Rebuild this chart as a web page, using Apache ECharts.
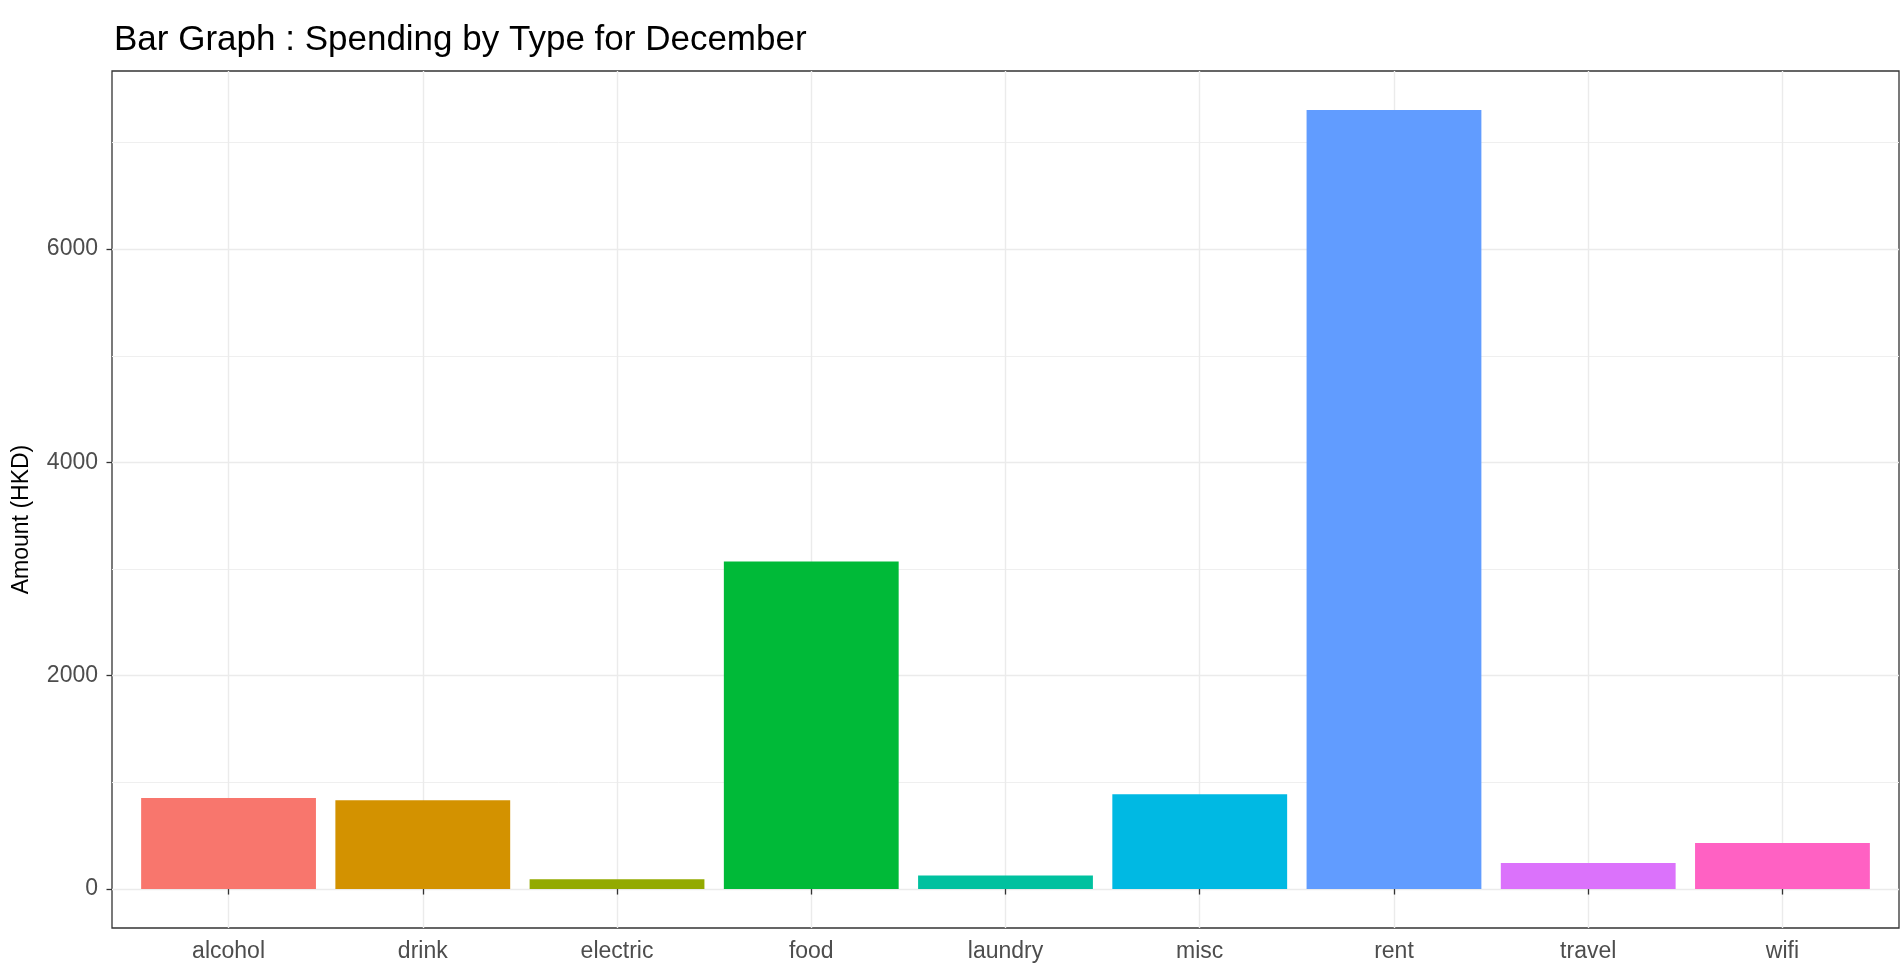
<!DOCTYPE html>
<html>
<head>
<meta charset="utf-8">
<title>Spending by Type for December</title>
<script src="https://cdn.jsdelivr.net/npm/echarts@6/dist/echarts.min.js"></script>
<style>
  html, body { margin: 0; padding: 0; background: #fff; }
  #chart { width: 1903px; height: 970px; }
</style>
</head>
<body>
<div id="chart"></div>
<script>
// values
const categories = ['alcohol', 'drink', 'electric', 'food', 'laundry', 'misc', 'rent', 'travel', 'wifi'];
const amounts = [853, 832, 91, 3070, 128, 888, 7305, 244, 431];
const barColors = ['#F8766D', '#D39200', '#93AA00', '#00BA38', '#00C19F', '#00B9E3', '#619CFF', '#DB72FB', '#FF61C3'];
const yTicks = [0, 2000, 4000, 6000];
const yMinorTicks = [1000, 3000, 5000, 7000];

const font = 'Liberation Sans, Arial, sans-serif';

// ggplot style 5% expansion on the value axis
const maxAmount = Math.max(...amounts);
const yMin = -0.05 * maxAmount;
const yMax = 1.05 * maxAmount;

// panel box in pixels
const panel = { left: 112, right: 1899, top: 71, bottom: 928 };
const band = (panel.right - panel.left) / (categories.length - 1 + 1.2);

const chart = echarts.init(document.getElementById('chart'));

const option = {
    animation: false,
    backgroundColor: '#fff',
    title: {
        text: 'Bar Graph : Spending by Type for December',
        left: panel.left - 3,
        top: 18,
        textStyle: { fontFamily: font, fontSize: 35, fontWeight: 'normal', color: '#000' }
    },
    grid: [
        {
            // outer panel: border + horizontal grid lines
            left: panel.left,
            right: 1903 - panel.right,
            top: panel.top,
            bottom: 970 - panel.bottom,
            show: true,
            borderColor: '#333',
            borderWidth: 1.3,
            backgroundColor: 'transparent'
        },
        {
            // inner grid: categories sit 0.6 band in from the panel edges
            left: panel.left + 0.6 * band,
            right: 1903 - (panel.right - 0.6 * band),
            top: panel.top,
            bottom: 970 - panel.bottom
        }
    ],
    xAxis: [
        { type: 'value', gridIndex: 0, min: 0, max: 1, show: false },
        {
            type: 'category',
            gridIndex: 1,
            data: categories,
            boundaryGap: false,
            axisLine: { show: false },
            axisTick: { show: true, length: 5.5, lineStyle: { color: '#333', width: 1.3 } },
            axisLabel: { fontFamily: font, fontSize: 23, color: '#4D4D4D', margin: 12, interval: 0 },
            splitLine: { show: true, interval: 0, lineStyle: { color: '#EBEBEB', width: 1.4 } }
        }
    ],
    yAxis: [
        {
            type: 'value',
            gridIndex: 0,
            min: yMin,
            max: yMax,
            name: 'Amount (HKD)',
            nameLocation: 'middle',
            nameGap: 79,
            nameRotate: 90,
            nameTextStyle: { fontFamily: font, fontSize: 23, color: '#000', padding: [0, 40, 0, 0] },
            axisLine: { show: false },
            axisTick: { show: true, length: 5.5, customValues: yTicks, lineStyle: { color: '#333', width: 1.3 } },
            axisLabel: {
                fontFamily: font, fontSize: 23, color: '#4D4D4D', margin: 14,
                customValues: yTicks,
                formatter: v => String(v)
            },
            splitLine: { show: true, lineStyle: { color: '#EBEBEB', width: 1.4 } }
        },
        {
            // minor grid lines only
            type: 'value',
            gridIndex: 0,
            min: yMin,
            max: yMax,
            axisLine: { show: false },
            axisTick: { show: false, customValues: yMinorTicks },
            axisLabel: { show: false, customValues: yMinorTicks },
            splitLine: { show: true, lineStyle: { color: '#EFEFEF', width: 1 } }
        },
        { type: 'value', gridIndex: 1, min: yMin, max: yMax, show: false }
    ],
    series: [
        {
            type: 'bar',
            xAxisIndex: 1,
            yAxisIndex: 2,
            barWidth: '90%',
            clip: false,
            data: amounts.map((v, i) => ({ value: v, itemStyle: { color: barColors[i] } }))
        }
    ]
};

chart.setOption(option);
</script>
</body>
</html>
